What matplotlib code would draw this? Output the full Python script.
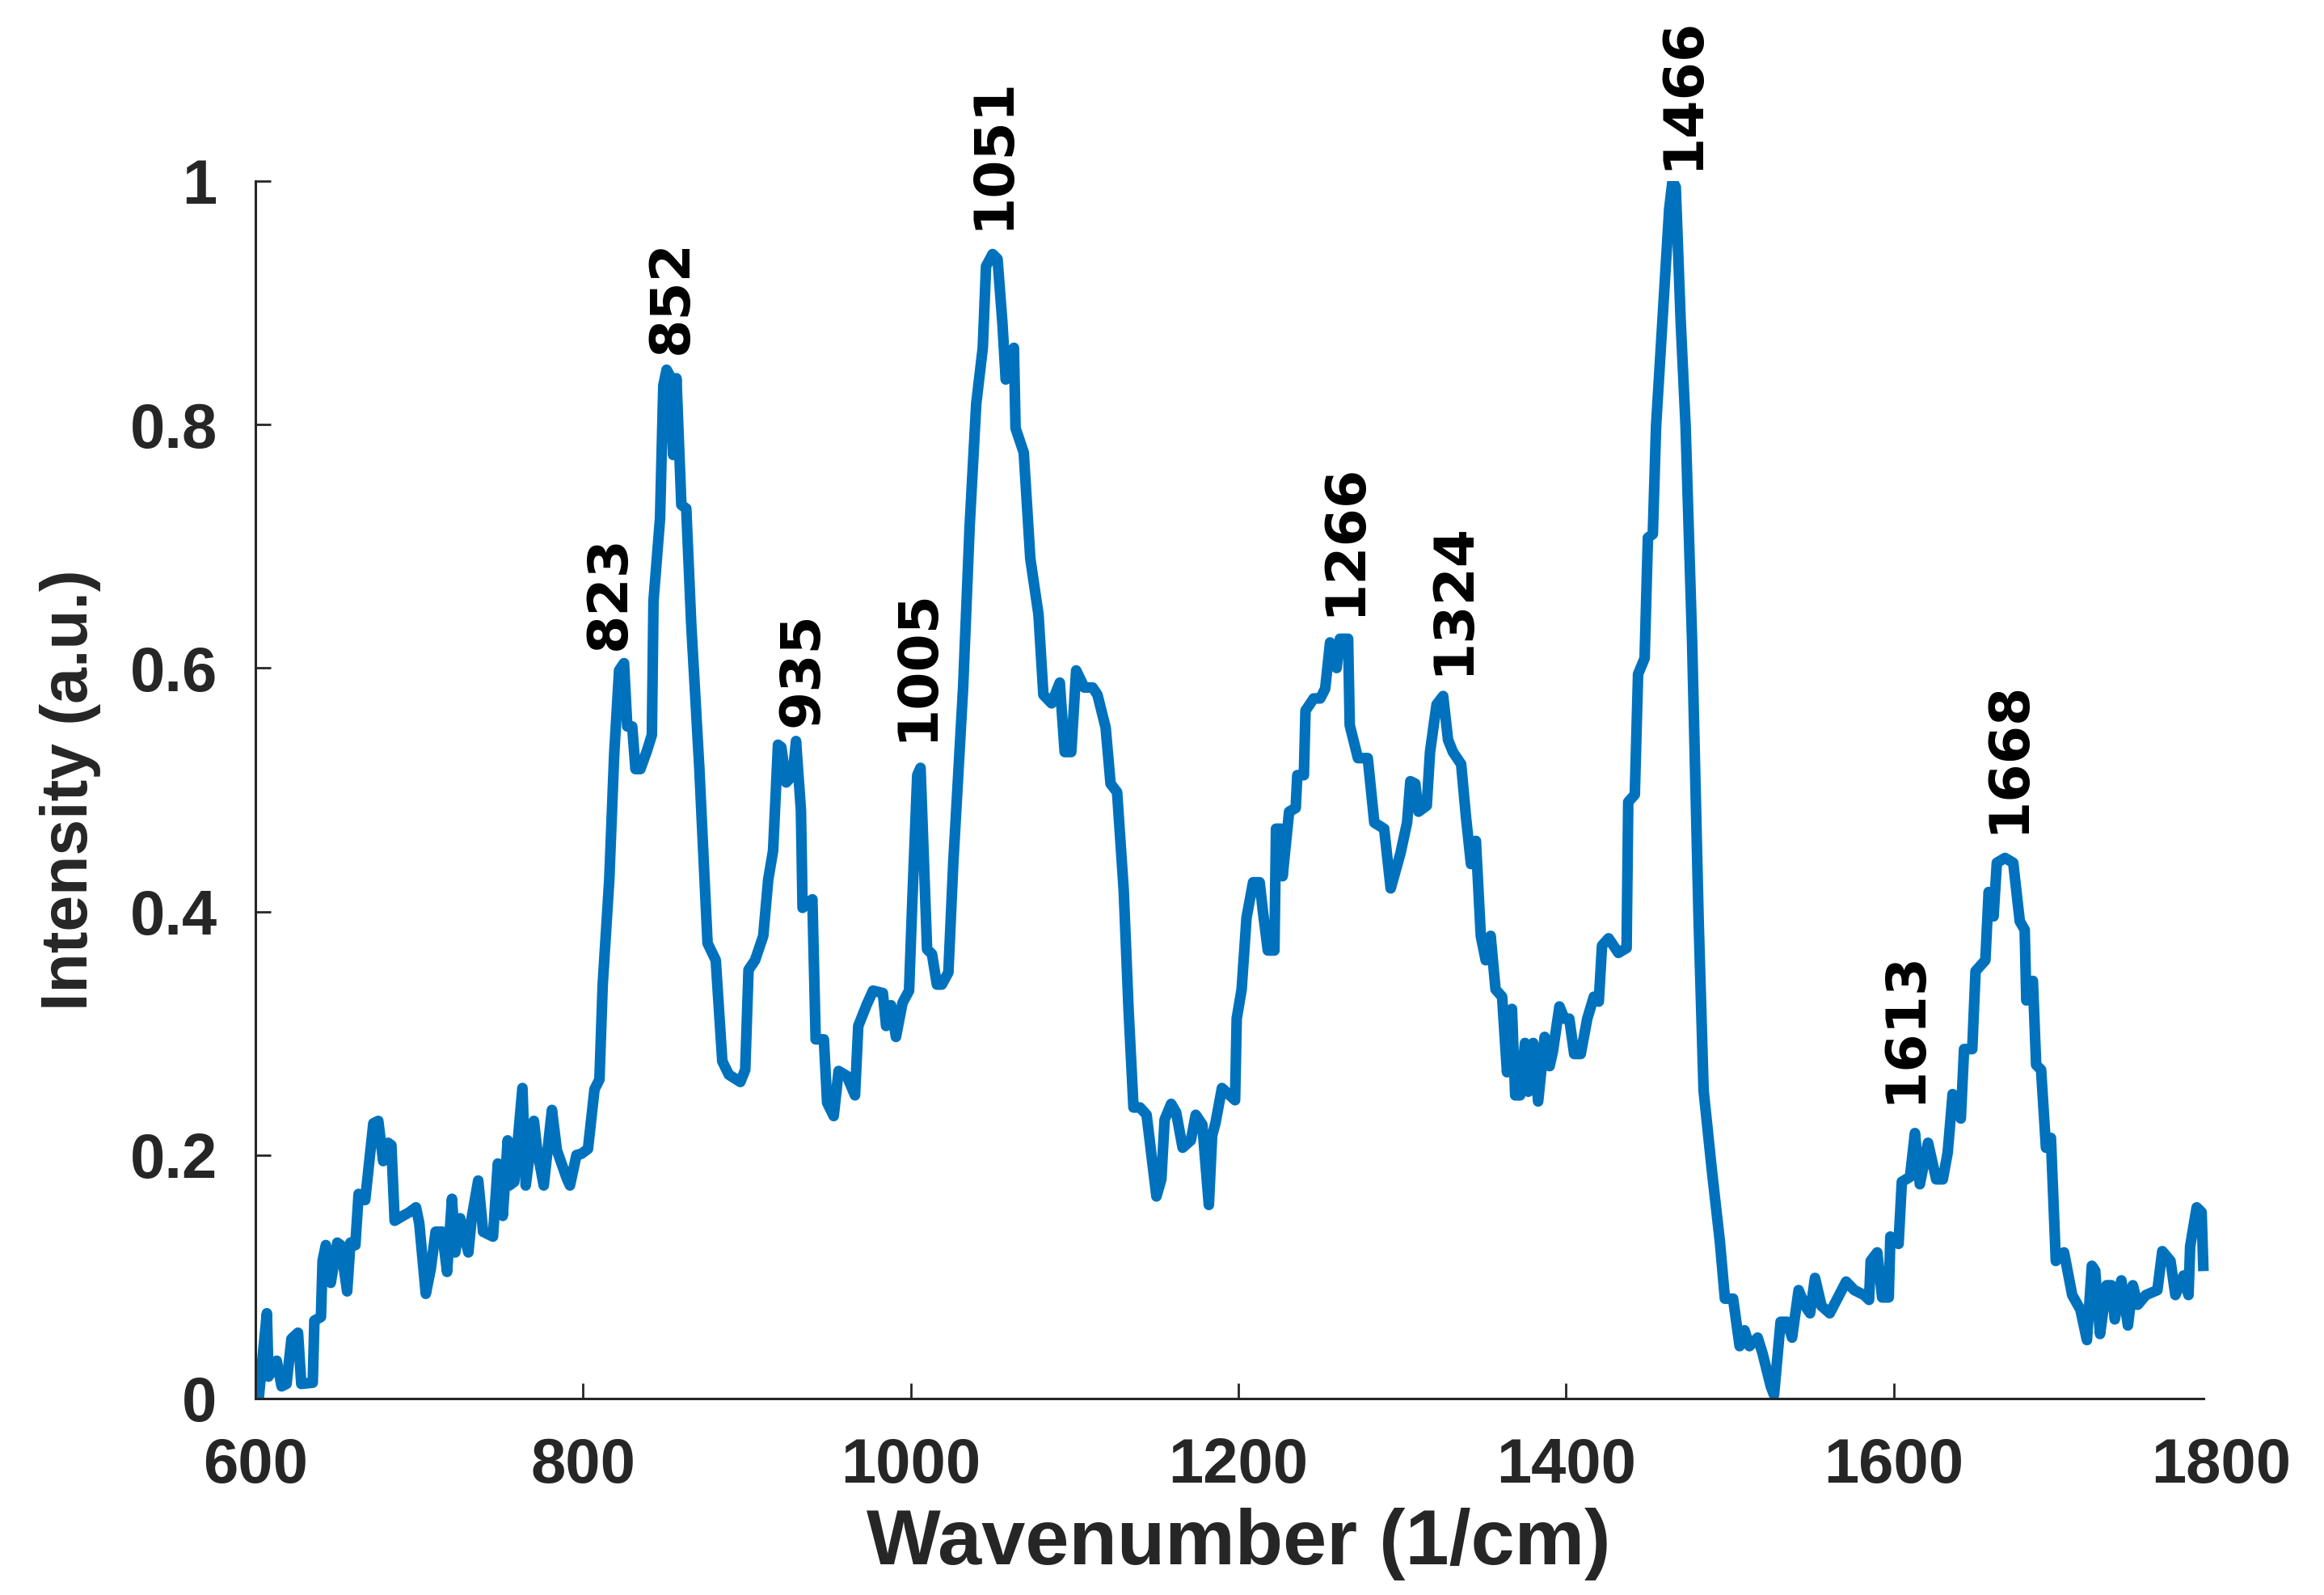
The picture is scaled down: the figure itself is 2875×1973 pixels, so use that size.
import matplotlib
matplotlib.use("Agg")
from matplotlib import pyplot as plt

# Raman spectrum (wavenumber in 1/cm, normalised intensity)
wavenumber = [600, 602, 607, 608, 613, 616, 619, 622, 626, 628, 635, 636, 640, 641, 643, 646, 650, 652, 656, 658,
              661, 663, 667, 672, 675, 678, 681, 683, 685, 690, 694, 698, 700, 704, 707, 710, 714, 717, 720, 722,
              725, 730, 732, 736, 739, 745, 748, 751, 754, 755, 758, 763, 765, 770, 772, 776, 781, 784, 790, 792,
              796, 799, 803, 807, 810, 812, 816, 819, 822, 825, 827, 830, 832, 835, 839, 842, 843, 847, 849, 851,
              853, 855, 857, 860, 863, 866, 871, 876, 881, 885, 889, 896, 899, 901, 905, 910, 913, 916, 919, 921,
              924, 928, 930, 933, 934, 940, 942, 947, 949, 953, 956, 961, 966, 968, 973, 977, 983, 985, 988, 991,
              995, 999, 1001, 1004, 1006, 1010, 1013, 1016, 1019, 1023, 1026, 1032, 1036, 1040, 1044, 1046, 1050,
              1053, 1056, 1058, 1060, 1063, 1064, 1069, 1073, 1078, 1081, 1086, 1091, 1094, 1098, 1101, 1106, 1111,
              1114, 1119, 1122, 1126, 1130, 1133, 1136, 1140, 1144, 1150, 1153, 1155, 1159, 1162, 1166, 1171, 1174,
              1178, 1182, 1184, 1186, 1190, 1194, 1198, 1199, 1202, 1205, 1209, 1213, 1215, 1218, 1222, 1223, 1226,
              1227, 1231, 1235, 1236, 1240, 1241, 1246, 1250, 1253, 1256, 1260, 1262, 1267, 1268, 1273, 1279, 1283,
              1289, 1293, 1299, 1303, 1305, 1308, 1310, 1315, 1317, 1321, 1325, 1328, 1331, 1336, 1339, 1342, 1345,
              1348, 1351, 1354, 1357, 1361, 1364, 1367, 1369, 1372, 1375, 1377, 1380, 1383, 1387, 1390, 1392, 1396,
              1399, 1402, 1405, 1409, 1413, 1417, 1420, 1422, 1426, 1432, 1437, 1438, 1442, 1444, 1448, 1450, 1453,
              1455, 1460, 1463, 1465, 1467, 1470, 1473, 1477, 1481, 1484, 1489, 1494, 1497, 1502, 1506, 1509, 1512,
              1517, 1520, 1525, 1527, 1531, 1535, 1538, 1542, 1546, 1549, 1552, 1556, 1561, 1566, 1571, 1576, 1582,
              1585, 1586, 1590, 1593, 1597, 1598, 1603, 1605, 1610, 1613, 1616, 1621, 1626, 1630, 1633, 1636, 1641,
              1643, 1648, 1650, 1656, 1658, 1661, 1663, 1668, 1673, 1677, 1680, 1681, 1685, 1687, 1690, 1693, 1696,
              1699, 1704, 1709, 1714, 1718, 1721, 1723, 1726, 1730, 1733, 1735, 1739, 1743, 1746, 1749, 1754, 1761,
              1764, 1769, 1772, 1777, 1780, 1781, 1785, 1788, 1789]
intensity = [0.005, 0.0, 0.07, 0.018, 0.031, 0.01, 0.012, 0.049, 0.054, 0.012, 0.013, 0.064, 0.067, 0.113, 0.126,
             0.095, 0.128, 0.126, 0.088, 0.128, 0.126, 0.168, 0.163, 0.226, 0.228, 0.195, 0.21, 0.208, 0.146, 0.15,
             0.153, 0.157, 0.144, 0.086, 0.106, 0.137, 0.137, 0.104, 0.164, 0.12, 0.148, 0.12, 0.148, 0.179, 0.137,
             0.133, 0.193, 0.15, 0.212, 0.175, 0.178, 0.255, 0.175, 0.228, 0.204, 0.175, 0.237, 0.204, 0.181, 0.175,
             0.2, 0.201, 0.205, 0.254, 0.262, 0.34, 0.426, 0.529, 0.598, 0.604, 0.552, 0.552, 0.517, 0.517, 0.532,
             0.545, 0.655, 0.723, 0.832, 0.845, 0.84, 0.775, 0.838, 0.734, 0.731, 0.637, 0.517, 0.374, 0.36, 0.277,
             0.266, 0.26, 0.27, 0.352, 0.36, 0.38, 0.426, 0.45, 0.537, 0.535, 0.506, 0.512, 0.54, 0.483, 0.403,
             0.41, 0.295, 0.295, 0.243, 0.232, 0.269, 0.265, 0.249, 0.306, 0.323, 0.335, 0.333, 0.306, 0.323,
             0.297, 0.325, 0.335, 0.409, 0.512, 0.518, 0.369, 0.365, 0.34, 0.34, 0.35, 0.44, 0.584, 0.717, 0.817,
             0.863, 0.93, 0.94, 0.936, 0.883, 0.837, 0.84, 0.863, 0.797, 0.777, 0.69, 0.644, 0.578, 0.571, 0.588,
             0.531, 0.531, 0.598, 0.584, 0.584, 0.578, 0.551, 0.505, 0.498, 0.418, 0.319, 0.239, 0.239, 0.233,
             0.166, 0.18, 0.229, 0.242, 0.235, 0.206, 0.212, 0.233, 0.225, 0.159, 0.216, 0.226, 0.255, 0.25, 0.245,
             0.312, 0.336, 0.395, 0.424, 0.424, 0.4, 0.368, 0.368, 0.468, 0.468, 0.429, 0.482, 0.485, 0.512, 0.512,
             0.565, 0.575, 0.575, 0.583, 0.621, 0.6, 0.624, 0.624, 0.553, 0.526, 0.526, 0.473, 0.468, 0.419, 0.448,
             0.473, 0.507, 0.505, 0.482, 0.487, 0.531, 0.57, 0.577, 0.541, 0.531, 0.521, 0.477, 0.439, 0.458, 0.38,
             0.36, 0.38, 0.336, 0.33, 0.268, 0.32, 0.249, 0.249, 0.292, 0.252, 0.292, 0.244, 0.297, 0.273, 0.285,
             0.322, 0.312, 0.312, 0.283, 0.283, 0.312, 0.33, 0.326, 0.372, 0.378, 0.366, 0.37, 0.49, 0.496, 0.595,
             0.608, 0.707, 0.71, 0.799, 0.911, 0.977, 1.0, 0.995, 0.885, 0.799, 0.621, 0.391, 0.253, 0.188, 0.128,
             0.082, 0.082, 0.043, 0.056, 0.043, 0.05, 0.037, 0.01, 0.003, 0.063, 0.063, 0.05, 0.089, 0.076, 0.07,
             0.099, 0.076, 0.07, 0.083, 0.096, 0.089, 0.085, 0.081, 0.113, 0.12, 0.083, 0.083, 0.133, 0.127, 0.178,
             0.182, 0.218, 0.176, 0.21, 0.18, 0.18, 0.202, 0.25, 0.23, 0.287, 0.287, 0.351, 0.36, 0.416, 0.396,
             0.44, 0.444, 0.44, 0.392, 0.385, 0.327, 0.343, 0.274, 0.27, 0.206, 0.214, 0.113, 0.12, 0.085, 0.073,
             0.048, 0.109, 0.105, 0.053, 0.093, 0.093, 0.065, 0.097, 0.06, 0.093, 0.077, 0.085, 0.089, 0.121, 0.113,
             0.085, 0.101, 0.085, 0.125, 0.157, 0.153, 0.109]

# peak annotations
peak_names = ['823', '852', '935', '1005', '1051', '1266', '1324', '1466', '1613', '1668']
peak_x = [813, 851, 931, 1001, 1047, 1262, 1328, 1468, 1604, 1667]
peak_y = [0.615, 0.858, 0.552, 0.54, 0.96, 0.643, 0.594, 1.009, 0.242, 0.464]

x_ticks = [600, 800, 1000, 1200, 1400, 1600, 1800]
y_ticks = [0, 0.2, 0.4, 0.6, 0.8, 1]
y_ticklabels = ['0', '0.2', '0.4', '0.6', '0.8', '1']

axcol = '#262626'
fig = plt.figure(figsize=(28.75, 19.73), dpi=100)
ax = fig.add_axes([0.1099, 0.1232, 0.8459, 0.7633])

ax.plot(wavenumber, intensity, color='#0072BD', lw=9.5, solid_joinstyle='round')

for name, px, py in zip(peak_names, peak_x, peak_y):
    ax.text(px + 3, py, name, rotation=90, ha='center', va='bottom',
            fontsize=49, family='DejaVu Sans', fontweight='bold', color='black')

ax.set_xlim(600, 1800)
ax.set_ylim(0, 1)
ax.set_xticks(x_ticks)
ax.set_yticks(y_ticks)
ax.set_yticklabels(y_ticklabels)

for side in ['top', 'right']:
    ax.spines[side].set_visible(False)
for side in ['left', 'bottom']:
    ax.spines[side].set_color(axcol)
    ax.spines[side].set_linewidth(2.2)
ax.spines['bottom'].set_bounds(600, 1789)

ax.tick_params(direction='in', length=14, width=2, color=axcol, labelcolor=axcol)
ax.tick_params(axis='x', pad=34)
ax.tick_params(axis='y', pad=34)
for lab in ax.get_xticklabels() + ax.get_yticklabels():
    lab.set_family('Liberation Sans')
    lab.set_weight('bold')
    lab.set_fontsize(56)
ax.xaxis.get_major_ticks()[-1].tick1line.set_visible(False)

ax.set_xlabel('Wavenumber (1/cm)', fontsize=70, fontweight='bold', family='Liberation Sans', color=axcol)
ax.set_ylabel('Intensity (a.u.)', fontsize=58, fontweight='bold', family='Liberation Sans', color=axcol)
ax.xaxis.set_label_coords(0.5, -0.09)
ax.yaxis.set_label_coords(-0.0785, 0.5)

plt.savefig('out.png', dpi=100)
